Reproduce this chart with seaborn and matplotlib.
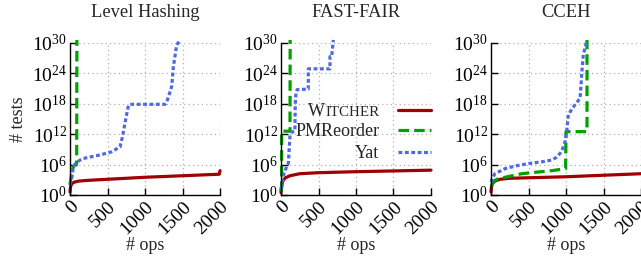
"""
Number of crash-consistency tests vs. number of ops (Witcher / PMReorder / Yat)
"""

import numpy as np
import matplotlib
matplotlib.use("Agg")
import matplotlib.pyplot as plt
import seaborn as sns

TITLES = ["Level Hashing", "FAST-FAIR", "CCEH"]
X_TICKS = [0, 500, 1000, 1500, 2000]
Y_TICKS = [1e0, 1e6, 1e12, 1e18, 1e24, 1e30]

# values are log10(# tests)
lh_witcher_x = [0, 5, 15, 30, 60, 120, 250, 500, 1000, 1500, 1990, 2000]
lh_witcher_y = [0.6, 1.4, 2.0, 2.3, 2.55, 2.75, 2.9, 3.1, 3.5, 3.8, 4.1, 4.8]
lh_pmr_x = [0, 22, 44, 89, 92]
lh_pmr_y = [2.0, 4.3, 5.6, 6.2, 30.6]
lh_yat_x = [0, 10, 27, 44, 80, 133, 178, 300, 400, 550, 667, 700, 733, 778,
            800, 1000, 1267, 1300, 1356, 1378, 1422, 1470]
lh_yat_y = [2.0, 2.8, 3.6, 5.6, 6.3, 6.9, 7.2, 7.6, 7.9, 8.5, 9.5, 11.5, 14.2,
            17.6, 17.9, 17.9, 17.9, 18.8, 21.4, 25.3, 29.6, 30.6]

ff_witcher_x = [0, 5, 15, 30, 60, 120, 250, 500, 1000, 1500, 2000]
ff_witcher_y = [0.5, 1.5, 2.3, 2.9, 3.4, 3.8, 4.2, 4.4, 4.6, 4.75, 4.9]
ff_pmr_x = [0, 9, 9, 120, 122]
ff_pmr_y = [0.6, 1.5, 12.6, 12.6, 30.6]
ff_yat_x = [0, 9, 31, 53, 76, 98, 120, 142, 185, 190, 200, 215, 364, 364,
            653, 653, 675, 698]
ff_yat_y = [1.2, 1.6, 3.9, 4.5, 5.8, 6.2, 11.8, 12.4, 12.6, 18.0, 20.2, 20.8,
            20.9, 24.9, 24.9, 27.3, 27.3, 30.6]

cc_witcher_x = [0, 5, 15, 30, 60, 120, 250, 500, 1000, 1500, 2000]
cc_witcher_y = [0.6, 1.5, 2.1, 2.5, 2.8, 3.1, 3.3, 3.4, 3.6, 3.9, 4.2]
cc_pmr_x = [0, 53, 98, 250, 409, 600, 809, 995, 1000, 1280, 1280]
cc_pmr_y = [1.8, 2.9, 3.2, 3.7, 4.2, 4.5, 4.8, 5.2, 12.5, 12.5, 30.6]
cc_yat_x = [0, 20, 53, 187, 350, 500, 700, 809, 870, 920, 960, 987, 1009,
            1031, 1080, 1120, 1187, 1200, 1209, 1231, 1260, 1276]
cc_yat_y = [2.5, 3.4, 4.2, 5.2, 5.8, 6.2, 6.6, 6.9, 7.4, 8.2, 9.3, 10.5, 12.5,
            15.8, 17.0, 17.8, 19.1, 21.5, 23.8, 27.8, 29.3, 30.6]

PANELS = [
    [(lh_witcher_x, lh_witcher_y), (lh_pmr_x, lh_pmr_y), (lh_yat_x, lh_yat_y)],
    [(ff_witcher_x, ff_witcher_y), (ff_pmr_x, ff_pmr_y), (ff_yat_x, ff_yat_y)],
    [(cc_witcher_x, cc_witcher_y), (cc_pmr_x, cc_pmr_y), (cc_yat_x, cc_yat_y)],
]
SERIES = ["WITCHER", "PMReorder", "Yat"]
COLORS = ["#a00000", "#00a000", "#5068e0"]
STYLES = ["-", (0, (3.3, 1.6)), (0, (1.2, 0.8))]

sns.set_theme(style="ticks")
plt.rcParams["font.family"] = ["Liberation Serif", "DejaVu Serif"]
plt.rcParams["mathtext.fontset"] = "custom"
plt.rcParams["mathtext.rm"] = "Liberation Serif"


def main():
    fig = plt.figure(figsize=(6.41, 2.58), dpi=100)
    lefts = [70 / 641, 281 / 641, 491 / 641]
    leg_ax, leg = None, None

    for i, left in enumerate(lefts):
        ax = fig.add_axes([left, 1 - 195 / 258, 150 / 641, 152 / 258])
        for (xs, ys), name, col, ls in zip(PANELS[i], SERIES, COLORS, STYLES):
            sns.lineplot(x=np.array(xs), y=np.power(10.0, ys), ax=ax,
                         estimator=None, sort=False, legend=False,
                         color=col, linestyle=ls, linewidth=2.3,
                         label=name, clip_on=False)

        ax.set_yscale("log")
        ax.set_xlim(0, 2000)
        ax.set_ylim(1, 1e30)
        ax.set_xticks(X_TICKS)
        ax.set_yticks(Y_TICKS)
        ax.minorticks_off()
        ax.grid(True, color="#b0b0b0", linestyle=(0, (1, 2.5)), linewidth=0.9)
        ax.set_axisbelow(True)
        ax.tick_params(direction="in", length=5, width=1, labelsize=14,
                       colors="black", pad=2)
        plt.setp(ax.get_xticklabels(), rotation=45, ha="right",
                 rotation_mode="anchor")
        sns.despine(ax=ax)
        for s in ("left", "bottom"):
            ax.spines[s].set_color("black")
            ax.spines[s].set_linewidth(1)

        ax.set_title(TITLES[i], fontsize=13.3, pad=19)
        ax.set_xlabel("# ops", fontsize=13, labelpad=0)
        if i == 0:
            ax.set_ylabel("# tests", fontsize=13, labelpad=4)
        else:
            ax.set_ylabel("")

        if i == 1:
            leg = ax.legend(loc="center right", bbox_to_anchor=(1.0, 0.41),
                            frameon=False, markerfirst=False, fontsize=13,
                            handlelength=1.85, handletextpad=1.0,
                            labelspacing=0.25, borderpad=0, borderaxespad=0)
            leg_ax = ax
            # small caps for Witcher: big "W" + smaller "ITCHER"
            first = leg.get_texts()[0]
            first.set_text("ITCHER")
            first.set_fontsize(10.8)

    # lay out once so the legend text has its final place, then add the "W"
    fig.canvas.draw()
    first = leg.get_texts()[0]
    leg_ax.annotate("W", xy=(0, 0), xycoords=first, ha="right",
                    va="bottom", fontsize=13, xytext=(0, -0.5),
                    textcoords="offset points", annotation_clip=False)

    fig.savefig("out.png", dpi=100)
    plt.close(fig)


if __name__ == "__main__":
    main()
